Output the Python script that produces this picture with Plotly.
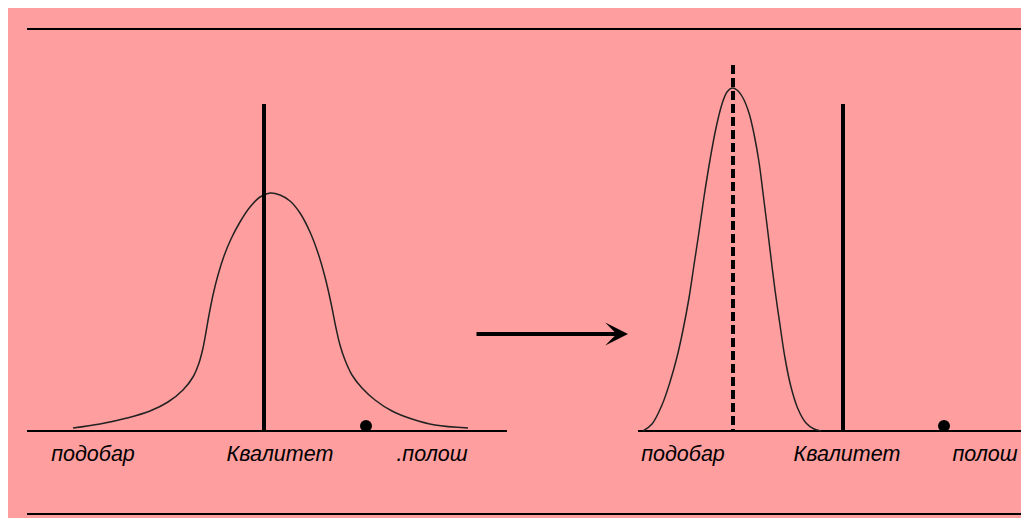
import plotly.graph_objects as go

# ---- data (screen-like coordinates) ----
left_curve_x = [73, 100, 127, 150, 168, 183, 193, 199, 203, 206, 209, 213, 218, 224, 231, 240, 250, 260, 270,
                280, 290, 300, 310, 318, 325, 331, 336, 340, 345, 352, 362, 375, 392, 412, 435, 468]
left_curve_y = [428, 424, 418, 411, 402, 390, 377, 363, 348, 332, 315, 295, 275, 256, 239, 222, 207, 197, 193,
                195, 201, 213, 232, 253, 277, 303, 328, 345, 360, 375, 388, 400, 411, 419, 425, 428]

right_curve_x = [643, 652, 662, 670, 677, 683, 689, 694, 699, 704, 710, 716, 722, 727, 732,
                 737, 743, 749, 754, 759, 763, 767, 771, 775, 780, 785, 791, 798, 806, 814, 821]
right_curve_y = [431, 424, 405, 382, 357, 330, 298, 265, 232, 197, 160, 128, 104, 92, 88,
                 90, 98, 113, 134, 162, 193, 225, 258, 290, 325, 358, 387, 409, 423, 429, 431]

labels_left = ["подобар", "Квалитет", ".полош"]
labels_left_x = [93, 280, 432]
labels_right = ["подобар", "Квалитет", "полош"]
labels_right_x = [683, 847, 985]
label_y = 456

quality_x = [264, 843]
mean_x = [733]
dots_x = [366, 944]
dot_y = 426

baseline_y = 431
left_axis_x = [27, 507]
right_axis_x = [638, 1024]
frame_top = dict(x=[27, 1025], y=29)
frame_bottom = dict(x=[27, 1029], y=514)

BG = "#ff9e9e"
INK = "black"

fig = go.Figure()

def hline(xs, y, w=2):
    fig.add_trace(go.Scatter(x=xs, y=[y, y], mode="lines",
                             line=dict(color=INK, width=w), hoverinfo="skip"))

hline(frame_top["x"], frame_top["y"], 2)
hline(frame_bottom["x"], frame_bottom["y"], 2)
hline(left_axis_x, baseline_y, 2)
hline(right_axis_x, baseline_y, 2)

fig.add_trace(go.Scatter(x=left_curve_x, y=left_curve_y, mode="lines",
                         line=dict(color="#222222", width=1.5, shape="spline", smoothing=1.0),
                         hoverinfo="skip"))
fig.add_trace(go.Scatter(x=right_curve_x, y=right_curve_y, mode="lines",
                         line=dict(color="#222222", width=1.5, shape="spline", smoothing=1.0),
                         hoverinfo="skip"))

for qx in quality_x:
    fig.add_trace(go.Scatter(x=[qx, qx], y=[104, baseline_y], mode="lines",
                             line=dict(color=INK, width=4), hoverinfo="skip"))
for mx in mean_x:
    fig.add_trace(go.Scatter(x=[mx, mx], y=[65, baseline_y], mode="lines",
                             line=dict(color=INK, width=4, dash="9px,4px"), hoverinfo="skip"))

fig.add_trace(go.Scatter(x=dots_x, y=[dot_y] * len(dots_x), mode="markers",
                         marker=dict(color=INK, size=12), hoverinfo="skip"))

fig.add_trace(go.Scatter(x=labels_left_x + labels_right_x,
                         y=[label_y] * (len(labels_left) + len(labels_right)),
                         text=labels_left + labels_right, mode="text",
                         textposition="middle center",
                         textfont=dict(family="Liberation Sans, Arial", size=21.5, color="black", style="italic"),
                         hoverinfo="skip"))

fig.add_annotation(x=628, y=334, ax=475, ay=334, xref="x", yref="y", axref="x", ayref="y",
                   showarrow=True, arrowhead=3, arrowsize=0.95, arrowwidth=4, arrowcolor=INK, text="")

fig.update_layout(
    width=1021, height=510,
    margin=dict(l=0, r=0, t=0, b=0),
    paper_bgcolor=BG, plot_bgcolor=BG,
    showlegend=False,
    xaxis=dict(range=[8, 1029], visible=False, fixedrange=True),
    yaxis=dict(range=[518, 8], visible=False, fixedrange=True),
)

fig.write_html("out.html")
